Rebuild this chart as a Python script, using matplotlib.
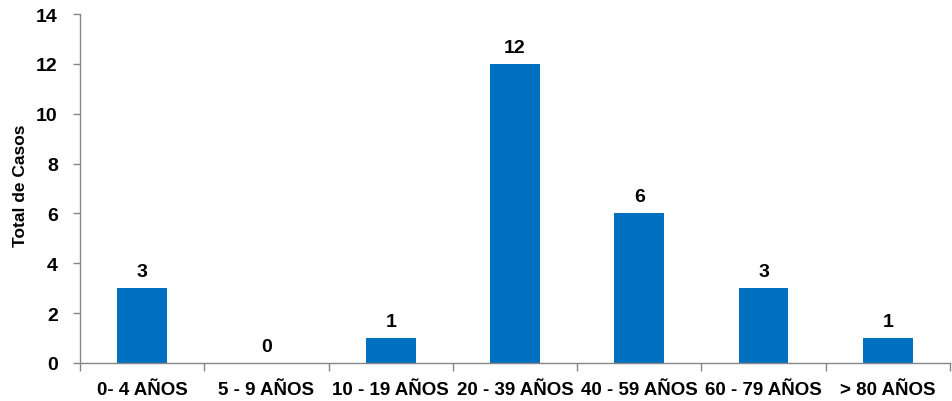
import matplotlib
matplotlib.use("Agg")
import matplotlib.pyplot as plt
import numpy as np
from matplotlib import font_manager

names = {f.name for f in font_manager.fontManager.ttflist}
family = ["Liberation Sans Narrow", "DejaVu Sans"] if "Liberation Sans Narrow" in names else ["Liberation Sans", "DejaVu Sans"]
plt.rcParams["font.family"] = family

categories = ["0- 4 AÑOS", "5 - 9 AÑOS", "10 - 19 AÑOS", "20 - 39 AÑOS",
              "40 - 59 AÑOS", "60 - 79 AÑOS", "> 80 AÑOS"]
casos = [3, 0, 1, 12, 6, 3, 1]

fig = plt.figure(figsize=(9.53, 4.02), dpi=100)
ax = fig.add_axes([80 / 953, 38 / 402, 870 / 953, 349 / 402])

x = np.arange(len(categories))
bars = ax.bar(x, casos, width=0.4, color="#0070C0", zorder=2)
for xi, v in zip(x, casos):
    ax.text(xi, v + 0.33, str(v), ha="center", va="bottom",
            fontsize=14, fontweight="bold", color="black")

ax.set_xlim(-0.5, len(categories) - 0.5)
ax.set_ylim(0, 14)
ax.set_yticks(range(0, 15, 2))
ax.set_xticks(x)
ax.set_xticklabels(categories, fontsize=13.5, fontweight="bold")
ax.set_xticks(np.arange(-0.5, len(categories), 1), minor=True)
ax.tick_params(axis="x", which="major", length=0, pad=13)
ax.tick_params(axis="x", which="minor", length=6, color="#868686", width=1)
ax.tick_params(axis="y", length=5, color="#868686", width=1, labelsize=14, pad=11)
for lbl in ax.get_yticklabels():
    lbl.set_fontweight("bold")
ax.set_ylabel("Total de Casos", fontsize=12.5, fontweight="bold")
ax.yaxis.set_label_coords(-0.06, 0.51)

for side in ["top", "right"]:
    ax.spines[side].set_visible(False)
for side in ["left", "bottom"]:
    ax.spines[side].set_color("#868686")
    ax.spines[side].set_linewidth(1)

fig.savefig("out.png", dpi=100)
